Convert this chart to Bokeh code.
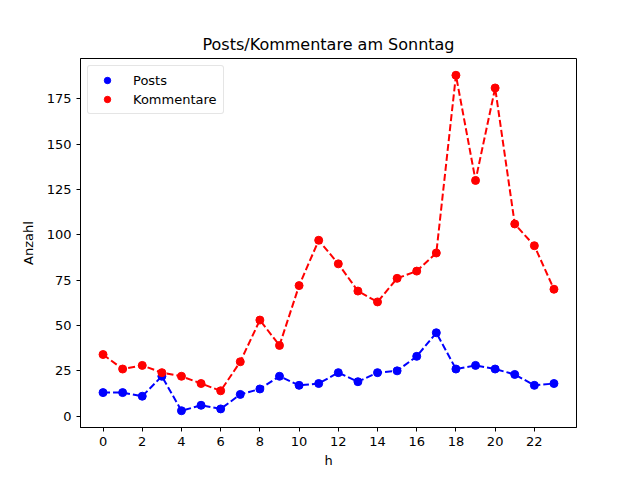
from bokeh.plotting import figure
from bokeh.models import FixedTicker, Range1d, Legend, LegendItem
from bokeh.embed import file_html
from bokeh.resources import INLINE

hours = list(range(24))
posts = [13, 13, 11, 22, 3, 6, 4, 12, 15, 22, 17, 18, 24, 19, 24, 25, 33, 46, 26, 28, 26, 23, 17, 18]
kommentare = [34, 26, 28, 24, 22, 18, 14, 30, 53, 39, 72, 97, 84, 69, 63, 76, 80, 90, 188, 130, 181, 106, 94, 70]
x_ticks = list(range(0, 24, 2))
y_ticks = [0, 25, 50, 75, 100, 125, 150, 175]

FONT = "DejaVu Sans"

p = figure(width=632, height=472, output_backend="svg", toolbar_location=None,
           x_range=Range1d(-1.15, 24.15), y_range=Range1d(-6.25, 197.25),
           min_border_left=80, min_border_right=56, min_border_top=58, min_border_bottom=45,
           title="Posts/Kommentare am Sonntag")
p.title.align = "center"
p.title.text_font = FONT
p.title.text_font_size = "16px"
p.title.text_font_style = "normal"
p.title.text_color = "black"
p.title.offset = 0

p.outline_line_color = "black"
p.outline_line_width = 1
p.xgrid.visible = False
p.ygrid.visible = False

for ax in (p.xaxis[0], p.yaxis[0]):
    ax.axis_line_color = "black"
    ax.major_tick_line_color = "black"
    ax.major_tick_out = 4
    ax.major_tick_in = 0
    ax.minor_tick_line_color = None
    ax.major_label_text_font = FONT
    ax.major_label_text_font_size = "13px"
    ax.major_label_text_color = "black"
    ax.axis_label_text_font = FONT
    ax.axis_label_text_font_size = "13px"
    ax.axis_label_text_font_style = "normal"
    ax.axis_label_text_color = "black"

p.xaxis.ticker = FixedTicker(ticks=x_ticks)
p.yaxis.ticker = FixedTicker(ticks=y_ticks)
p.xaxis.axis_label = "h"
p.yaxis.axis_label = "Anzahl"
p.xaxis.major_label_standoff = 5
p.yaxis.major_label_standoff = 5
p.xaxis.axis_label_standoff = 4
p.yaxis.axis_label_standoff = 8

p.line(hours, posts, line_color="blue", line_width=2, line_dash="7 3")
p.line(hours, kommentare, line_color="red", line_width=2, line_dash="7 3")
r1 = p.scatter(hours, posts, size=8, fill_color="blue", line_color="blue")
r2 = p.scatter(hours, kommentare, size=8, fill_color="red", line_color="red")

legend = Legend(items=[LegendItem(label="Posts", renderers=[r1]),
                       LegendItem(label="Kommentare", renderers=[r2])],
                location="top_left")
legend.margin = 7
legend.padding = 6
legend.spacing = 3
legend.glyph_width = 26
legend.glyph_height = 16
legend.label_height = 16
legend.label_standoff = 13
legend.label_text_font = FONT
legend.label_text_font_size = "13px"
legend.label_text_color = "black"
legend.border_line_color = "#cccccc"
legend.border_line_width = 1
legend.border_radius = 3
legend.background_fill_alpha = 0.8
p.add_layout(legend)

open("out.html", "w").write(file_html(p, INLINE))
